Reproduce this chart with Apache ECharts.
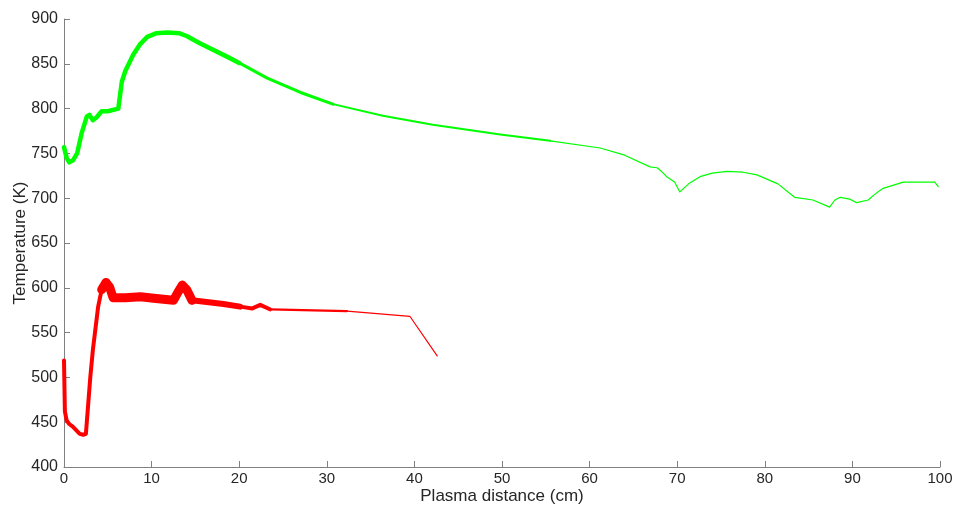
<!DOCTYPE html>
<html>
<head>
<meta charset="utf-8">
<script src="https://cdn.jsdelivr.net/npm/echarts@6/dist/echarts.min.js"></script>
<style>
html,body{margin:0;padding:0;background:#fff;}
#c{width:962px;height:511px;}
</style>
</head>
<body>
<div id="c"></div>
<script>
// ---- data ----
var xTicks = [0,10,20,30,40,50,60,70,80,90,100];
var yTicks = [400,450,500,550,600,650,700,750,800,850,900];

var greenX = [0,0.3,0.6,1.0,1.5,2.0,2.6,2.9,3.3,3.7,4.3,5.0,6.2,6.4,6.6,7.0,7.9,8.7,9.5,10.5,11.8,13.2,14.0,15.5,18.6,20.0,23.2,27.0,30.7,36.4,42.1,49.8,55.5,61.2,64.0,66.9,67.7,68.2,68.8,69.7,70.3,71.3,72.6,74.0,75.7,77.5,79.1,81.5,83.4,85.5,87.4,88.0,88.6,89.7,90.5,91.8,92.5,93.5,95.8,99.4,99.8];
var greenY = [757,745,740,742,750,772,791,793,787,790,797,797,800,802,830,842,860,872,880,884,885,884,881,873,858,851,834,818,805,792,782,771,764,756,748,735,734,730,724,718,707,716,724,728,730,729,726,716,701,698,690,698,701,699,695,698,704,711,718,718,713];

var redX = [0,0.1,0.3,0.6,1.0,1.8,2.2,2.5,3.0,3.3,3.9,4.3,4.8,5.2,5.6,7.0,8.7,10.5,12.5,13.0,13.5,14.0,14.6,18.2,20.1,21.5,22.4,23.5,32.3,39.5,42.6];
var redY = [519,462,452,448,445,437,436,437,500,531,579,598,606,601,589,589,590,588,586,595,603,598,586,582,579,577,581,576,574,568,524];

// ---- styling: segments [fromX, toX, width] ----
var greenSegs = [[0,20.0,4.5],[20.0,30.7,3],[30.7,55.5,2],[55.5,100,1.2]];
var redSegs = [[0,4.3,4],[4.3,14.6,9],[14.6,20.1,6],[20.1,23.5,4],[23.5,32.3,2.2],[32.3,43,1.2]];

function buildSeries(xs, ys, segs, color){
  var out = [];
  segs.forEach(function(s){
    var d = [];
    for (var i=0;i<xs.length;i++){
      if (xs[i] >= s[0] && xs[i] <= s[1]) d.push([xs[i], ys[i]]);
    }
    out.push({
      type:'line', data:d, showSymbol:false, symbol:'none', silent:true,
      lineStyle:{color:color, width:s[2], join:'round', cap:'round'},
      z:2
    });
  });
  return out;
}

var series = [].concat(
  buildSeries(greenX, greenY, greenSegs, '#00ff00'),
  buildSeries(redX, redY, redSegs, '#ff0000')
);

var chart = echarts.init(document.getElementById('c'), null, {renderer:'canvas'});
chart.setOption({
  animation:false,
  backgroundColor:'#ffffff',
  grid:{left:64, right:22, top:19, bottom:44, containLabel:false, outerBoundsMode:'none'},
  xAxis:{
    type:'value', min:0, max:100, interval:10,
    name:'Plasma distance (cm)', nameLocation:'middle', nameGap:21, nameMoveOverlap:false,
    nameTextStyle:{fontFamily:'Liberation Sans', fontSize:17, color:'#262626'},
    axisLine:{show:true, lineStyle:{color:'#808080', width:1}},
    axisTick:{show:true, inside:true, length:6, lineStyle:{color:'#808080'}},
    axisLabel:{fontFamily:'Liberation Sans', fontSize:15, color:'#262626', margin:4,
      formatter:function(v){return xTicks.indexOf(v)>=0 ? String(v) : '';}},
    splitLine:{show:false}
  },
  yAxis:{
    type:'value', min:400, max:900, interval:50,
    name:'Temperature (K)', nameLocation:'middle', nameGap:35, nameMoveOverlap:false,
    nameTextStyle:{fontFamily:'Liberation Sans', fontSize:17, color:'#262626'},
    axisLine:{show:true, lineStyle:{color:'#808080', width:1}},
    axisTick:{show:true, inside:true, length:6, lineStyle:{color:'#808080'}},
    axisLabel:{fontFamily:'Liberation Sans', fontSize:16, color:'#262626', margin:6,
      formatter:function(v){return yTicks.indexOf(v)>=0 ? String(v) : '';}},
    splitLine:{show:false}
  },
  series:series
});
</script>
</body>
</html>
